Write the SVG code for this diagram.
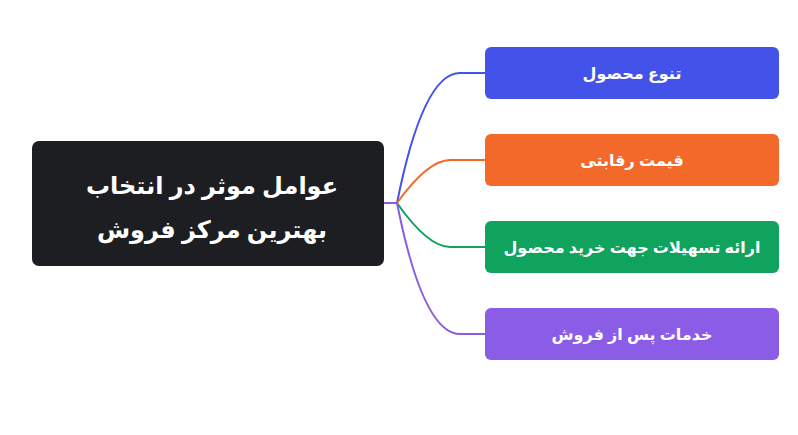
<svg xmlns="http://www.w3.org/2000/svg" width="798" height="435" viewBox="0 0 798 435">
<style>
.t{font-family:"Noto Sans","DejaVu Sans",sans-serif;font-weight:bold;fill:#ffffff;text-anchor:middle;dominant-baseline:central}
.c{font-size:24px}
.s{font-size:16px}
.l{fill:none;stroke-width:2}
</style>
<rect width="798" height="435" fill="#ffffff"/>
<g id="connectors">
<path class="l" stroke="#4353ea" d="M397,203 Q423,73 460,73 L485,73"/>
<path class="l" stroke="#f2692a" d="M397,203 Q428,160 450,160 L485,160"/>
<path class="l" stroke="#0fa35e" d="M397,203 Q428,247 450,247 L485,247"/>
<path class="l" stroke="#8b5ce6" d="M397,203 Q423,334 460,334 L485,334"/>
<path class="l" stroke="#8b5ce6" d="M384,203 L397,203"/>
</g>
<g id="root">
<rect x="32" y="141" width="352" height="125" rx="7" fill="#1d1e22"/>
<text class="t c" x="212" y="184">عوامل موثر در انتخاب</text>
<text class="t c" x="212" y="228">بهترین مرکز فروش</text>
</g>
<g id="n1">
<rect x="485" y="47" width="294" height="52" rx="6" fill="#4353ea"/>
<text class="t s" x="632" y="73">تنوع محصول</text>
</g>
<g id="n2">
<rect x="485" y="134" width="294" height="52" rx="6" fill="#f2692a"/>
<text class="t s" x="632" y="160">قیمت رقابتی</text>
</g>
<g id="n3">
<rect x="485" y="221" width="294" height="52" rx="6" fill="#0fa35e"/>
<text class="t s" x="632" y="247">ارائه تسهیلات جهت خرید محصول</text>
</g>
<g id="n4">
<rect x="485" y="308" width="294" height="52" rx="6" fill="#8b5ce6"/>
<text class="t s" x="632" y="334">خدمات پس از فروش</text>
</g>
</svg>
